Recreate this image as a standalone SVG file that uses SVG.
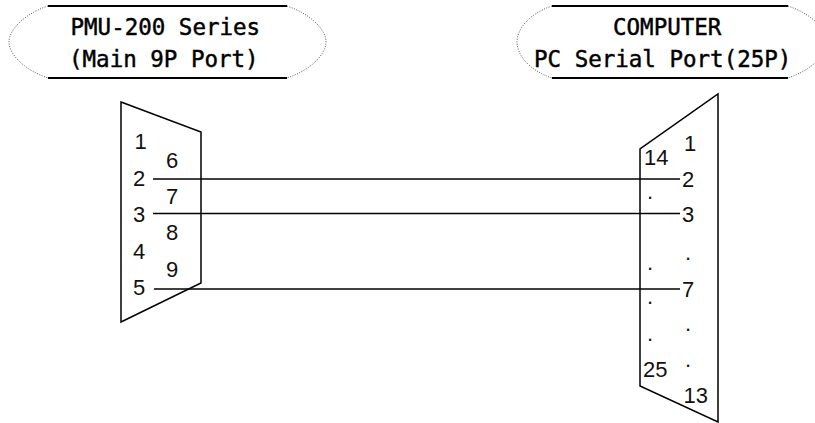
<svg xmlns="http://www.w3.org/2000/svg" width="815" height="423" viewBox="0 0 815 423">
<style>
.bg{fill:#ffffff}
.dot{fill:none;stroke:#555;stroke-width:1;stroke-dasharray:1 1.5}
.bar{stroke:#000;stroke-width:2}
.title{font-family:"DejaVu Sans Mono","Liberation Mono",monospace;font-size:22.5px;fill:#000;stroke:#000;stroke-width:0.45}
.shell{fill:none;stroke:#000;stroke-width:1.5;stroke-linejoin:miter}
.wire{stroke:#000;stroke-width:1.4}
.pin{font-family:"Liberation Sans",Arial,sans-serif;font-size:22px;fill:#111}
</style>
<rect class="bg" x="0" y="0" width="815" height="423"/>
<g id="title-left">
<path class="dot" d="M48,6 C24,14 9,30 9,42 C9,54 24,70 48,78"/>
<path class="dot" d="M287,6 C311,14 326,30 326,42 C326,54 311,70 287,78"/>
<line class="bar" x1="48" y1="6" x2="287" y2="6"/>
<line class="bar" x1="48" y1="78" x2="287" y2="78"/>
<text class="title" x="70.5" y="34.5">PMU-200 Series</text>
<text class="title" x="69" y="67">(Main 9P Port)</text>
</g>
<g id="title-right">
<path class="dot" d="M552,6 C528,14 517,30 517,42 C517,54 528,70 552,78"/>
<path class="dot" d="M788,6 C812,14 827,30 827,42 C827,54 812,70 788,78"/>
<line class="bar" x1="552" y1="6" x2="788" y2="6"/>
<line class="bar" x1="552" y1="78" x2="788" y2="78"/>
<text class="title" x="613" y="34.5">COMPUTER</text>
<text class="title" x="534" y="67">PC Serial Port(25P)</text>
</g>
<g id="connector-9p">
<polygon class="shell" points="121,102 201,132 201,283 121,322"/>
<text class="pin" x="134.5" y="149">1</text>
<text class="pin" x="166" y="167.5">6</text>
<text class="pin" x="133" y="185.5">2</text>
<text class="pin" x="166" y="203.5">7</text>
<text class="pin" x="133" y="222">3</text>
<text class="pin" x="166" y="240">8</text>
<text class="pin" x="133" y="258.5">4</text>
<text class="pin" x="166" y="276.5">9</text>
<text class="pin" x="133" y="294.5">5</text>
</g>
<g id="connector-25p">
<polygon class="shell" points="718,94 718,422 640,386 640,149"/>
<text class="pin" x="684" y="150.5">1</text>
<text class="pin" x="644" y="165">14</text>
<text class="pin" x="682" y="186.5">2</text>
<text class="pin" x="647" y="199">.</text>
<text class="pin" x="682" y="221.5">3</text>
<text class="pin" x="685" y="260">.</text>
<text class="pin" x="647" y="270">.</text>
<text class="pin" x="682" y="297">7</text>
<text class="pin" x="647" y="304">.</text>
<text class="pin" x="685" y="331">.</text>
<text class="pin" x="647" y="341">.</text>
<text class="pin" x="643" y="376.5">25</text>
<text class="pin" x="685" y="367">.</text>
<text class="pin" x="683.5" y="403">13</text>
</g>
<g id="connectors">
<line class="wire" x1="153" y1="179" x2="680" y2="179"/>
<line class="wire" x1="153" y1="213.5" x2="680" y2="213.5"/>
<line class="wire" x1="154" y1="289" x2="680" y2="289"/>
</g>
</svg>
